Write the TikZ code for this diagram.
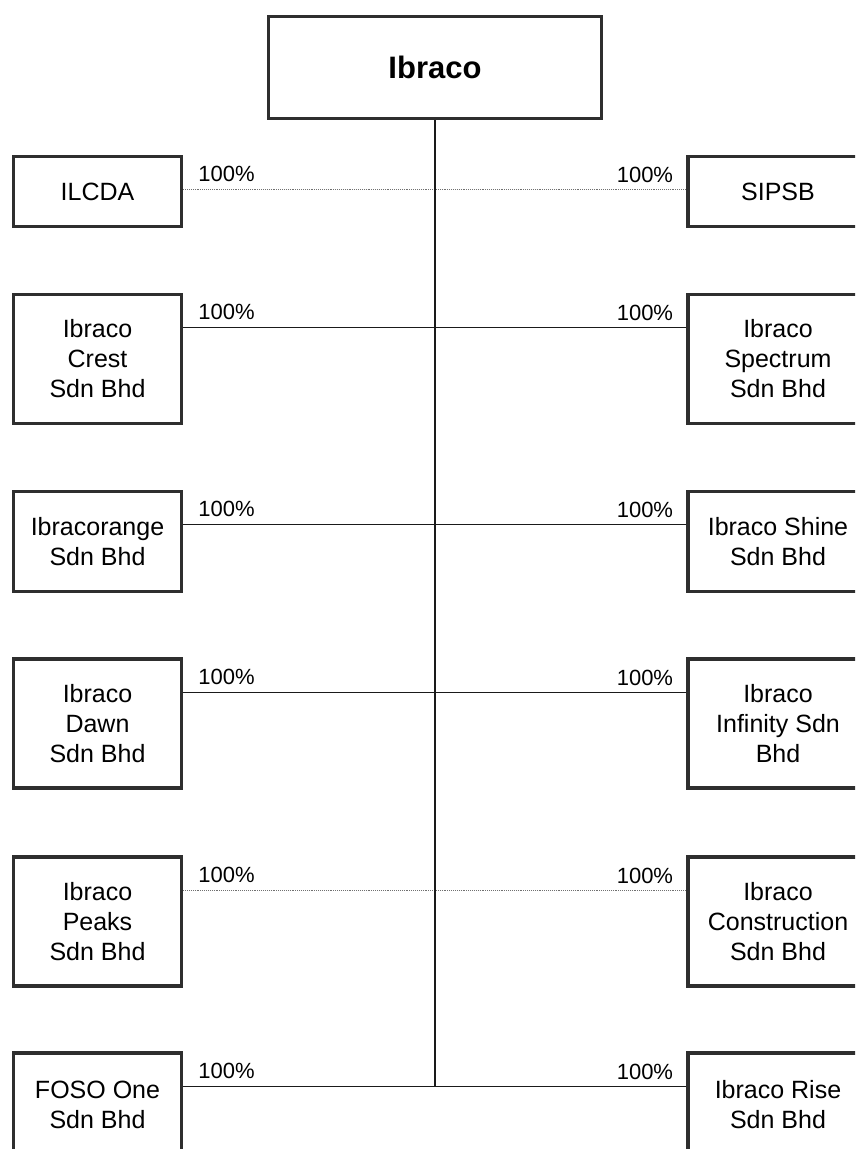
\documentclass[tikz,border=0pt]{standalone}
\usepackage{fontspec}
\setmainfont{Liberation Sans}
\usepackage{xcolor}
\usepackage{tikz}
\usetikzlibrary{positioning}
\definecolor{frame}{HTML}{2E2E2E}
\definecolor{wire}{HTML}{1A1A1A}
\definecolor{faint}{HTML}{707070}
\tikzset{
  top/.style={draw=frame, line width=3.5pt, minimum width=333pt, minimum height=102pt, font=\fontsize{31}{36}\selectfont\bfseries},
  sub/.style={draw=frame, line width=3.5pt, align=center, inner sep=0pt, font=\fontsize{25}{30}\selectfont},
  lsub/.style={sub, minimum width=168pt},
  rsub/.style={sub, minimum width=180pt},
  pct/.style={font=\fontsize{22}{26}\selectfont, inner sep=0pt},
  link/.style={draw=wire, line width=1pt},
  weak/.style={draw=faint, line width=0.9pt, densely dotted},
  trunk/.style={draw=wire, line width=2pt},
}
\begin{document}
\begin{tikzpicture}[x=1pt,y=-1pt]
  \useasboundingbox (0,0) rectangle (855,1149);
  \begin{scope}
  \clip (0,0) rectangle (855,1149);
  \node[top] (ibraco) at (435,67.5) {Ibraco};
  % left column
  \node[lsub, minimum height=70pt] (l1) at (97.5,191.5) {ILCDA};
  \node[lsub, minimum height=129pt] (l2) at (97.5,359) {Ibraco\\Crest\\Sdn Bhd};
  \node[lsub, minimum height=100pt] (l3) at (97.5,541.5) {Ibracorange\\Sdn Bhd};
  \node[lsub, minimum height=129pt] (l4) at (97.5,723.5) {Ibraco\\Dawn\\Sdn Bhd};
  \node[lsub, minimum height=129pt] (l5) at (97.5,921.5) {Ibraco\\Peaks\\Sdn Bhd};
  \node[lsub, minimum height=104pt] (l6) at (97.5,1105) {FOSO One\\Sdn Bhd};
  % right column
  \node[rsub, minimum height=70pt] (r1) at (778,191.5) {SIPSB};
  \node[rsub, minimum height=129pt] (r2) at (778,359) {Ibraco\\Spectrum\\Sdn Bhd};
  \node[rsub, minimum height=100pt] (r3) at (778,541.5) {Ibraco Shine\\Sdn Bhd};
  \node[rsub, minimum height=129pt] (r4) at (778,723.5) {Ibraco\\Infinity Sdn\\Bhd};
  \node[rsub, minimum height=129pt] (r5) at (778,921.5) {Ibraco\\Construction\\Sdn Bhd};
  \node[rsub, minimum height=104pt] (r6) at (778,1105) {Ibraco Rise\\Sdn Bhd};
  % links and shares
  \foreach \i in {1,...,6} {
    \coordinate (a\i) at ([yshift=-35pt]l\i.north east);
    \coordinate (b\i) at ([yshift=-35pt]r\i.north west);
    \node[pct, anchor=base west] (pl\i) at ([xshift=15pt,yshift=-27pt]l\i.north east) {100\%};
    \node[pct, anchor=base east] (pr\i) at ([xshift=-13pt,yshift=-28pt]r\i.north west) {100\%};
  }
  \draw[weak] (a1) -- (b1);
  \draw[link] (a2) -- (b2);
  \draw[link] (a3) -- (b3);
  \draw[link] (a4) -- (b4);
  \draw[weak] (a5) -- (b5);
  \draw[link] (a6) -- (b6);
  \draw[trunk] (ibraco.south) -- (ibraco.south |- a6);
  \end{scope}
\end{tikzpicture}
\end{document}
